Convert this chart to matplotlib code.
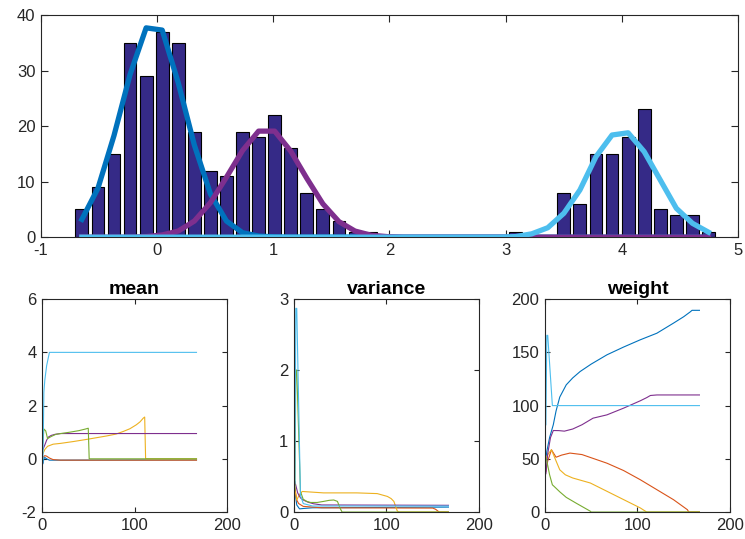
import numpy as np
import matplotlib
matplotlib.use("Agg")
import matplotlib.pyplot as plt

plt.rcParams['font.family'] = ['Liberation Sans', 'DejaVu Sans']
plt.rcParams['axes.unicode_minus'] = False

# ---- histogram of the samples (40 bins) ----
bin_centers_first = -0.648
bin_step = 0.1383
counts = [5, 9, 15, 35, 29, 37, 35, 19, 12, 11,
          19, 18, 22, 16, 8, 5, 3, 1, 1, 0,
          0, 0, 0, 0, 0, 0, 0, 1, 0, 0,
          8, 6, 15, 15, 18, 23, 5, 4, 4, 1]

# fitted component curves, evaluated at the bin centres
fit_blue = [3.2, 8.8, 18.3, 29.3, 37.7, 37.3, 27.8, 16.6, 7.8, 2.9,
            0.8, 0.2, 0.05, 0, 0, 0, 0, 0, 0, 0,
            0, 0, 0, 0, 0, 0, 0, 0, 0, 0,
            0, 0, 0, 0, 0, 0, 0, 0, 0, 0]
fit_purple = [0, 0, 0, 0, 0.1, 0.4, 1.1, 2.9, 6.2, 10.8,
              15.6, 19.1, 19.1, 15.5, 10.6, 6.0, 2.8, 1.1, 0.35, 0.1,
              0, 0, 0, 0, 0, 0, 0, 0, 0, 0,
              0, 0, 0, 0, 0, 0, 0, 0, 0, 0]
fit_cyan = [0, 0, 0, 0, 0, 0, 0, 0, 0, 0,
            0, 0, 0, 0, 0, 0, 0, 0, 0, 0,
            0, 0, 0, 0, 0, 0, 0, 0.1, 0.6, 1.7,
            4.3, 8.5, 14.5, 18.4, 18.8, 15.4, 10.3, 5.2, 2.5, 0.9]

# ---- parameter traces over EM iterations ----
comp_colors = ['#0072BD', '#D95319', '#EDB120', '#7E2F8E', '#77AC30', '#4DBEEE']

mean_iters = [
    [1, 2, 3, 5, 8, 15, 167],
    [1, 3, 5, 8, 12, 20, 167],
    [1, 3, 6, 12, 20, 34, 50, 70, 80, 88, 95, 102, 106, 109.5, 111, 112, 167],
    [1, 3, 5, 7, 10, 14, 20, 167],
    [1, 2, 4, 6, 10, 15, 22, 30, 40, 47, 50, 51, 167],
    [1, 2, 3, 5, 8, 167],
]
mean_vals = [
    [-0.18, 0.0, 0.05, 0.0, -0.05, -0.05, -0.04],
    [0.05, 0.12, 0.1, 0.03, -0.03, -0.05, -0.05],
    [0.2, 0.35, 0.47, 0.55, 0.58, 0.65, 0.74, 0.86, 0.93, 1.03, 1.13, 1.28,
     1.39, 1.53, 1.57, 0.0, 0.0],
    [0.35, 0.52, 0.7, 0.82, 0.88, 0.92, 0.95, 0.95],
    [0.6, 1.12, 1.05, 0.76, 0.84, 0.92, 0.96, 1.0, 1.06, 1.12, 1.15, 0.0, 0.0],
    [-0.1, 2.5, 2.95, 3.5, 4.0, 4.0],
]

var_iters = [
    [1, 3, 6, 10, 20, 167],
    [1, 3, 5, 10, 30, 150, 153, 157, 167],
    [1, 3, 6, 9, 32, 68, 90, 101, 105, 108, 111.5, 113, 167],
    [1, 4, 7, 10, 15, 21, 30, 167],
    [1, 2, 3, 7, 10, 14, 18, 25, 32, 38, 43, 47, 50, 52, 167],
    [1, 2, 3, 7, 10, 20, 167],
]
var_vals = [
    [0.3, 0.1, 0.045, 0.05, 0.06, 0.07],
    [0.34, 0.17, 0.12, 0.08, 0.06, 0.056, 0.04, 0.0, 0.0],
    [0.31, 0.17, 0.25, 0.29, 0.27, 0.27, 0.26, 0.22, 0.19, 0.15, 0.02, 0.0, 0.0],
    [0.43, 0.27, 0.2, 0.17, 0.14, 0.117, 0.1, 0.095],
    [0.3, 2.0, 2.0, 0.29, 0.18, 0.15, 0.135, 0.135, 0.15, 0.165, 0.17, 0.15,
     0.05, 0.0, 0.0],
    [0.4, 2.87, 2.87, 0.24, 0.12, 0.085, 0.085],
]

weight_iters = [
    [1, 2, 5, 9, 12, 16, 23, 30, 38, 50, 67, 85, 103, 121, 139, 150, 157, 159, 167],
    [1, 3, 7, 12, 18, 27, 40, 67, 85, 103, 121, 139, 154, 155.5, 167],
    [1, 3, 7, 12, 16, 22, 30, 49, 67, 85, 103, 110, 167],
    [1, 3, 6, 9, 15, 21, 30, 40, 52, 67, 85, 103, 110, 114, 121, 167],
    [1, 2, 5, 8, 10, 16, 23, 34, 48.6, 50, 167],
    [1, 2, 3, 8, 167],
]
weight_vals = [
    [50, 57, 70, 82, 95, 108, 119.5, 126, 132, 139, 147.7, 155, 161.8, 168,
     177.5, 183.5, 188, 189.5, 189.5],
    [38, 48, 58.5, 51.5, 53.5, 55.4, 54, 45.9, 39, 30.4, 21, 11.6, 2.2, 0, 0],
    [50, 54, 58.5, 48, 39.7, 35, 32, 27.3, 19.5, 11.7, 3.9, 0, 0],
    [36, 55, 70, 76.6, 76.5, 76, 78, 82, 88.2, 91.3, 97.6, 104.5, 107.5, 109.5, 110, 110],
    [51, 48, 35, 25.6, 24, 19, 13.8, 8.2, 1, 0, 0],
    [82, 166, 166, 100, 100],
]

AX_COLOR = '#262626'


def style_axes(ax, ticklen):
    for sp in ax.spines.values():
        sp.set_color(AX_COLOR)
        sp.set_linewidth(0.8)
    ax.tick_params(direction='in', length=ticklen, width=0.8, color=AX_COLOR,
                   labelcolor=AX_COLOR, labelsize=12, top=True, right=True,
                   pad=4)


fig = plt.figure(figsize=(7.45, 5.39), dpi=100)

# ---- top: histogram with fitted components ----
ax = fig.add_axes([0.055, 0.560, 0.9356, 0.412])
centers = bin_centers_first + bin_step * np.arange(len(counts))
ax.bar(centers, counts, width=bin_step * 0.8, color='#352A87',
       edgecolor='black', linewidth=0.8, zorder=2)
ax.plot(centers, fit_blue, color='#0072BD', lw=3.8, zorder=3)
ax.plot(centers, fit_purple, color='#7E2F8E', lw=3.8, zorder=4)
ax.plot(centers, fit_cyan, color='#4DBEEE', lw=3.8, zorder=5)
ax.set_xlim(-1, 5)
ax.set_ylim(0, 40)
ax.set_xticks(range(-1, 6))
ax.set_yticks(range(0, 41, 10))
style_axes(ax, 5)

# ---- bottom: parameter traces ----
panels = [
    ('mean', 0.0564, mean_iters, mean_vals, (-2, 6), [-2, 0, 2, 4, 6]),
    ('variance', 0.3946, var_iters, var_vals, (0, 3), [0, 1, 2, 3]),
    ('weight', 0.7315, weight_iters, weight_vals, (0, 200), [0, 50, 100, 150, 200]),
]
for title, left, xs, ys, ylim, yticks in panels:
    a = fig.add_axes([left, 0.050, 0.2483, 0.395])
    for xi, yi, c in zip(xs, ys, comp_colors):
        a.plot(xi, yi, color=c, lw=0.8)
    a.set_xlim(0, 200)
    a.set_ylim(*ylim)
    a.set_xticks([0, 100, 200])
    a.set_yticks(yticks)
    a.set_title(title, fontsize=14, fontweight='bold', pad=4, color='black')
    style_axes(a, 3.5)

fig.savefig('out.png', dpi=100, facecolor='white')
